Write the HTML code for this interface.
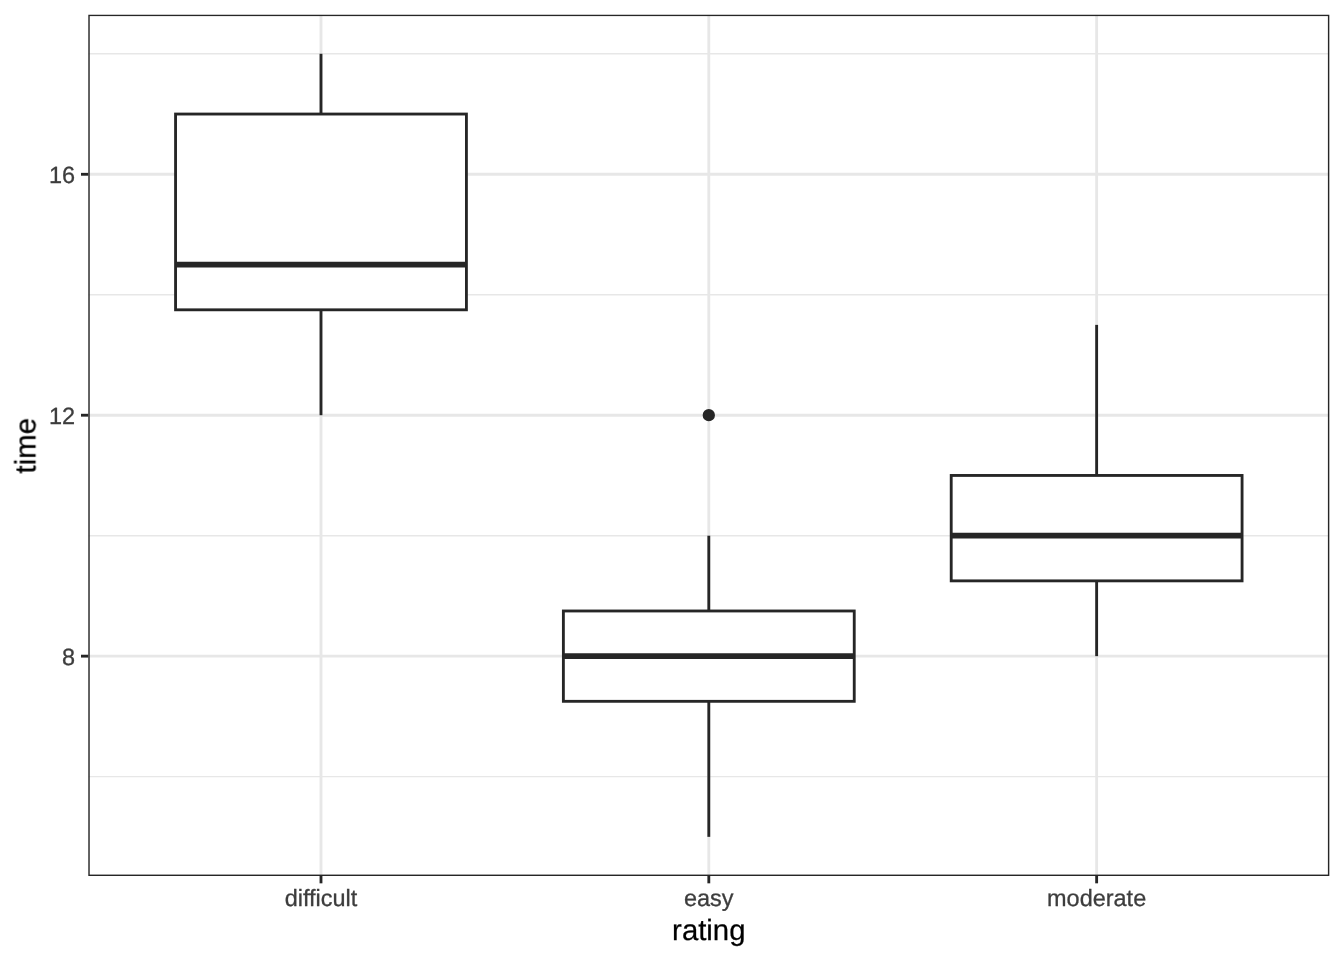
<!DOCTYPE html>
<html lang="en"><head><meta charset="utf-8"><title>time by rating</title>
<style>html,body{margin:0;padding:0;background:#fff}body{width:1344px;height:960px;overflow:hidden}svg{display:block}text{font-family:"Liberation Sans",Arial,Helvetica,sans-serif;text-rendering:geometricPrecision}</style></head><body>
<svg width="1344" height="960" viewBox="0 0 1344 960">
<rect width="1344" height="960" fill="#fff"/>
<defs><filter id="f" x="0" y="0" width="1344" height="960" filterUnits="userSpaceOnUse" color-interpolation-filters="sRGB"><feOffset dx="0" dy="0"/></filter><clipPath id="p"><rect x="88.3" y="14.67" width="1241.03" height="861.33"/></clipPath></defs>
<g clip-path="url(#p)">
<g stroke="#e7e7e7" stroke-width="1.42" fill="none">
<line x1="88.3" x2="1329.33" y1="776.62" y2="776.62"/>
<line x1="88.3" x2="1329.33" y1="535.68" y2="535.68"/>
<line x1="88.3" x2="1329.33" y1="294.75" y2="294.75"/>
<line x1="88.3" x2="1329.33" y1="53.82" y2="53.82"/>
</g>
<g stroke="#e7e7e7" stroke-width="2.85" fill="none">
<line x1="88.3" x2="1329.33" y1="656.15" y2="656.15"/>
<line x1="88.3" x2="1329.33" y1="415.22" y2="415.22"/>
<line x1="88.3" x2="1329.33" y1="174.29" y2="174.29"/>
<line x1="320.99" x2="320.99" y1="14.67" y2="876.0"/>
<line x1="708.81" x2="708.81" y1="14.67" y2="876.0"/>
<line x1="1096.64" x2="1096.64" y1="14.67" y2="876.0"/>
</g>
<g stroke="#262626" stroke-width="2.85" fill="none" stroke-linecap="butt" stroke-linejoin="miter">
<circle cx="708.81" cy="415.22" r="5.2" fill="#262626" stroke-width="1.9"/>
<line x1="320.99" x2="320.99" y1="114.05" y2="53.82"/>
<line x1="320.99" x2="320.99" y1="309.81" y2="415.22"/>
<rect x="175.56" y="114.05" width="290.86" height="195.76" fill="#fff"/>
<line x1="175.56" x2="466.42" y1="264.64" y2="264.64" stroke-width="5.7"/>
<line x1="708.81" x2="708.81" y1="610.98" y2="535.68"/>
<line x1="708.81" x2="708.81" y1="701.32" y2="836.85"/>
<rect x="563.38" y="610.98" width="290.86" height="90.34" fill="#fff"/>
<line x1="563.38" x2="854.24" y1="656.15" y2="656.15" stroke-width="5.7"/>
<line x1="1096.64" x2="1096.64" y1="475.45" y2="324.87"/>
<line x1="1096.64" x2="1096.64" y1="580.86" y2="656.15"/>
<rect x="951.21" y="475.45" width="290.86" height="105.41" fill="#fff"/>
<line x1="951.21" x2="1242.07" y1="535.68" y2="535.68" stroke-width="5.7"/>
</g>
<rect x="88.3" y="14.67" width="1241.03" height="861.33" fill="none" stroke="#262626" stroke-width="2.85"/>
</g>
<g stroke="#262626" stroke-width="2.85">
<line x1="80.97" x2="88.3" y1="656.15" y2="656.15"/>
<line x1="80.97" x2="88.3" y1="415.22" y2="415.22"/>
<line x1="80.97" x2="88.3" y1="174.29" y2="174.29"/>
<line x1="320.99" x2="320.99" y1="876.0" y2="883.33"/>
<line x1="708.81" x2="708.81" y1="876.0" y2="883.33"/>
<line x1="1096.64" x2="1096.64" y1="876.0" y2="883.33"/>
</g>
<g filter="url(#f)"><g fill="#3d3d3d" stroke="#3d3d3d" stroke-width="0.3" font-size="23.47px">
<text x="75.0" y="664.60" text-anchor="end">8</text>
<text x="75.0" y="423.67" text-anchor="end">12</text>
<text x="75.0" y="182.74" text-anchor="end">16</text>
<text x="320.99" y="905.9" text-anchor="middle">difficult</text>
<text x="708.81" y="905.9" text-anchor="middle">easy</text>
<text x="1096.64" y="905.9" text-anchor="middle">moderate</text>
</g>
<g fill="#000" stroke="#000" stroke-width="0.25" font-size="29.33px">
<text x="708.81" y="939.8" text-anchor="middle">rating</text>
<text transform="translate(35.4,445.78) rotate(-90)" text-anchor="middle">time</text>
</g>
</g></svg></body></html>
